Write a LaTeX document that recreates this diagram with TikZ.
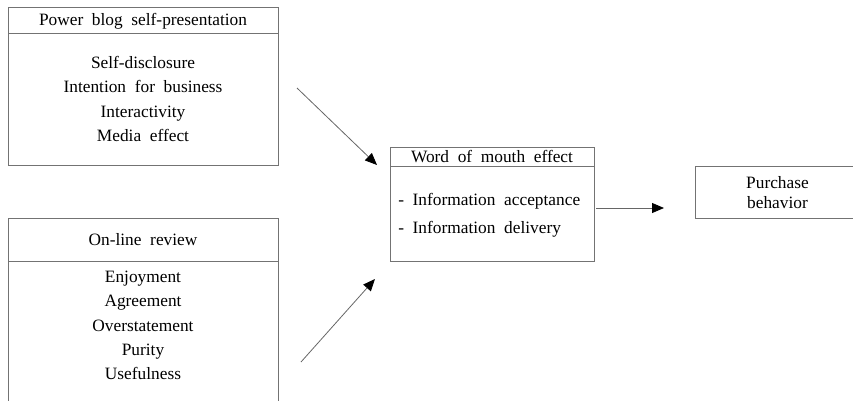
\documentclass[tikz,border=0pt]{standalone}
\usepackage{fontspec}
\setmainfont{Liberation Serif}[WordSpace=2]
\usetikzlibrary{arrows.meta}
\begin{document}
\begin{tikzpicture}[x=0.75pt,y=-0.75pt,
  box/.style={draw=black!55,line width=0.8pt,inner sep=0pt,anchor=north west},
  txt/.style={font=\fontsize{13}{15}\selectfont,inner sep=0pt,text=black,text height=8.6pt,text depth=0pt},
  conn/.style={draw=black!60,line width=0.6pt,-{Triangle[length=9pt,width=7.5pt,color=black]}}]
\useasboundingbox (0,0) rectangle (853,400);
\clip (0,0) rectangle (853,400);
% Box 1
\node[box,minimum width=202.5pt,minimum height=19.5pt] (b1h) at (8,7) {};
\node[box,minimum width=202.5pt,minimum height=99pt] (b1) at (8,33) {};
\node[txt] (t1) at (143,20) {Power blog self-presentation};
\node[txt] (t1a) at (143,63) {Self-disclosure};
\node[txt] (t1b) at (143,87) {Intention for business};
\node[txt] (t1c) at (143,111.5) {Interactivity};
\node[txt] (t1d) at (143,135.5) {Media effect};
% Box 2
\node[box,minimum width=202.5pt,minimum height=32.25pt] (b2h) at (8,218) {};
\node[box,minimum width=202.5pt,minimum height=120pt] (b2) at (8,261) {};
\node[txt] (t2) at (143,240) {On-line review};
\node[txt] (t2a) at (143,277) {Enjoyment};
\node[txt] (t2b) at (143,301) {Agreement};
\node[txt] (t2c) at (143,325.5) {Overstatement};
\node[txt] (t2d) at (143,350) {Purity};
\node[txt] (t2e) at (143,373.5) {Usefulness};
% Box 3
\node[box,minimum width=153pt,minimum height=14.25pt] (b3h) at (390,147) {};
\node[box,minimum width=153pt,minimum height=71.25pt] (b3) at (390,166) {};
\node[txt] (t3) at (492,156.5) {Word of mouth effect};
\node[txt,anchor=west] (t3a) at (398,200) {-\ Information acceptance};
\node[txt,anchor=west] (t3b) at (398,228) {-\ Information delivery};
% Box 4
\node[box,minimum width=123pt,minimum height=39pt] (b4) at (695,166) {};
\node[txt] (t4a) at (777.5,183) {Purchase};
\node[txt] (t4b) at (777.5,203) {behavior};
% Connectors
\coordinate (a1s) at (297,88);
\coordinate (a1e) at (377,165);
\coordinate (a2s) at (301,362);
\coordinate (a2e) at (375,279);
\coordinate (a3s) at (596,208);
\coordinate (a3e) at (664,208);
\draw[conn] (a1s) -- (a1e);
\draw[conn] (a2s) -- (a2e);
\draw[conn] (a3s) -- (a3e);
\end{tikzpicture}
\end{document}
